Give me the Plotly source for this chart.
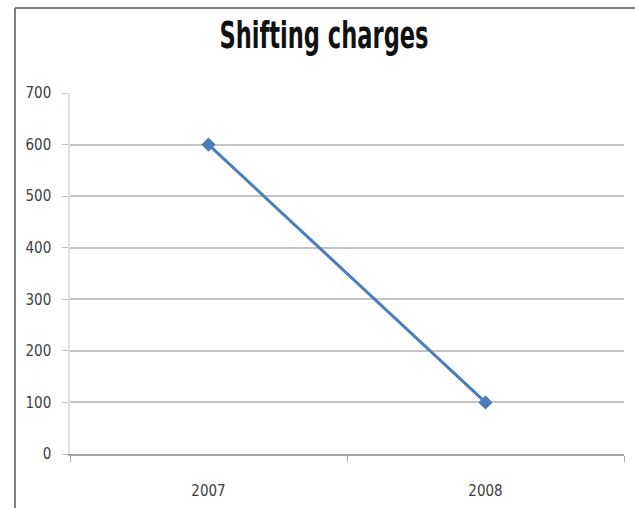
import plotly.graph_objects as go

# Chart data
years = ["2007", "2008"]
charges = [600, 100]
y_ticks = [0, 100, 200, 300, 400, 500, 600, 700]

W, H = 635, 508
L, R, T, B = 70, 11, 93, 54
pw, ph = W - L - R, H - T - B
FONT = "DejaVu Sans Condensed, Lato, sans-serif"
TITLE_SCALE_X = 0.66  # narrow the bold title horizontally

fig = go.Figure()
fig.add_trace(go.Scatter(
    x=years, y=charges, mode="lines+markers",
    line=dict(color="#4A7EBB", width=3),
    marker=dict(symbol="diamond", size=11, color="#4A7EBB"),
    showlegend=False,
))

# Outer chart frame (left and top edges)
fx = (15 - L) / pw
fy = 1 + (T - 8) / ph
fig.add_shape(type="line", xref="paper", yref="paper", x0=fx, x1=fx, y0=-1, y1=fy,
              line=dict(color="#555555", width=1.5))
fig.add_shape(type="line", xref="paper", yref="paper", x0=fx, x1=1.2, y0=fy, y1=fy,
              line=dict(color="#555555", width=1.5))

fig.update_layout(
    width=W, height=H,
    margin=dict(l=L, r=R, t=T, b=B),
    paper_bgcolor="white", plot_bgcolor="white",
    title=dict(text="<b>Shifting charges</b>", x=(324 - L) / pw, xref="paper",
               xanchor="center", y=1 - 35 / H, yref="container", yanchor="middle",
               font=dict(family=FONT, size=38, color="#111111")),
    xaxis=dict(type="category", range=[-0.5, 1.5], tickson="boundaries",
               ticks="outside", ticklen=6, tickcolor="#A6A6A6",
               showline=True, linecolor="#A6A6A6", linewidth=1.5,
               showgrid=False, ticklabelstandoff=22, automargin=False,
               tickfont=dict(family=FONT, size=15, color="#404040")),
    yaxis=dict(range=[0, 700], tickvals=y_ticks, ticks="outside", ticklen=6,
               tickcolor="#BFBFBF", showgrid=True, gridcolor="#C4C4C4", gridwidth=1.5,
               showline=True, linecolor="#E0E0E0", linewidth=1.5, zeroline=False,
               ticklabelstandoff=8, automargin=False,
               tickfont=dict(family=FONT, size=15, color="#404040")),
)

# Condense the title text around its own centre once the plot is drawn
post_js = """
var t = document.querySelector('.gtitle');
if (t) {
  var bb = t.getBBox();
  var cx = bb.x + bb.width / 2;
  t.setAttribute('transform',
    'translate(' + cx + ',0) scale(%s,1) translate(' + (-cx) + ',0)');
}
""" % TITLE_SCALE_X

fig.write_html("out.html", post_script=post_js)
